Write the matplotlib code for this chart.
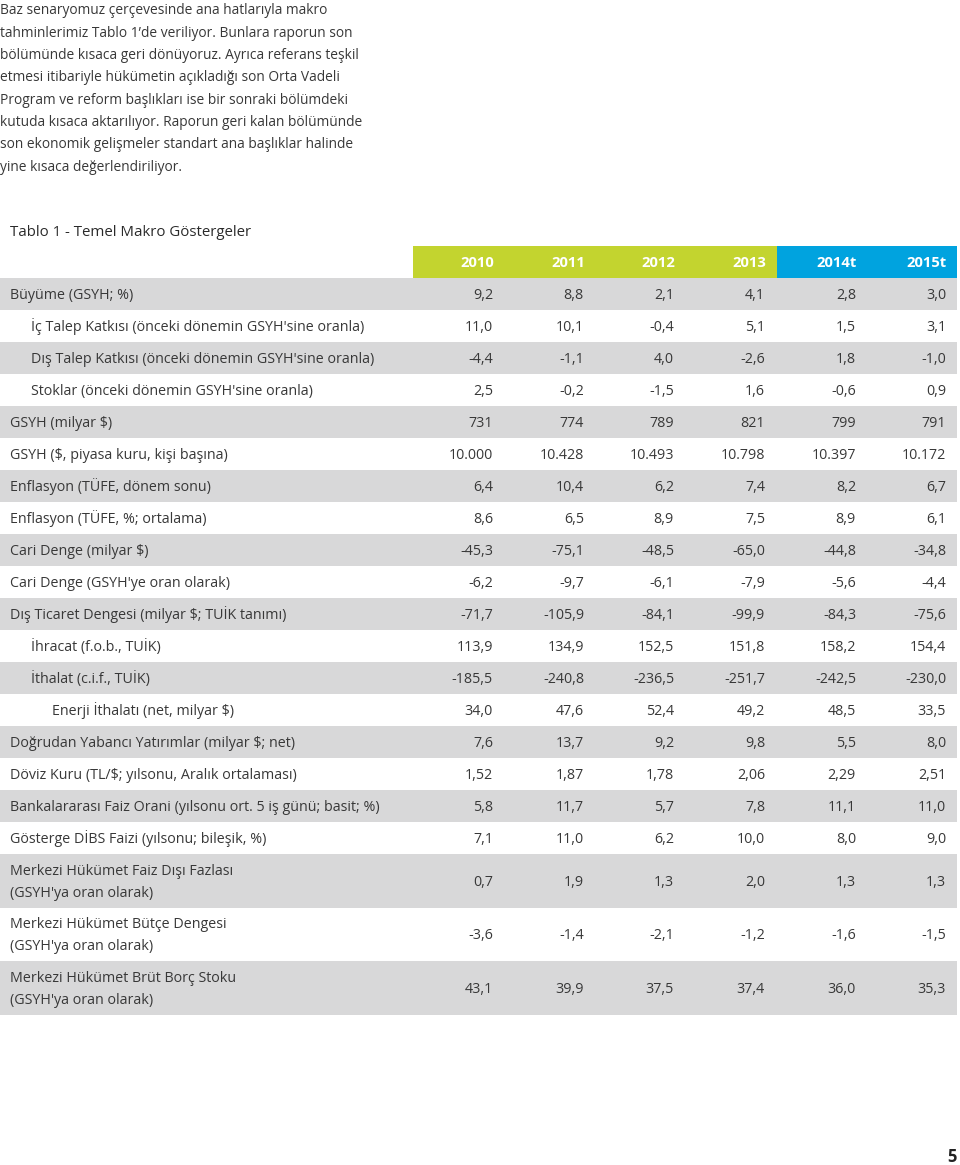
import matplotlib.pyplot as plt
from matplotlib.patches import Rectangle

plt.rcParams["font.family"] = ["Open Sans", "DejaVu Sans"]

intro = [
    "Baz senaryomuz çerçevesinde ana hatlarıyla makro",
    "tahminlerimiz Tablo 1\u2019de veriliyor. Bunlara raporun son",
    "bölümünde kısaca geri dönüyoruz. Ayrıca referans teşkil",
    "etmesi itibariyle hükümetin açıkladığı son Orta Vadeli",
    "Program ve reform başlıkları ise bir sonraki bölümdeki",
    "kutuda kısaca aktarılıyor. Raporun geri kalan bölümünde",
    "son ekonomik gelişmeler standart ana başlıklar halinde",
    "yine kısaca değerlendiriliyor.",
]
title = "Tablo 1 - Temel Makro Göstergeler"

years = ["2010", "2011", "2012", "2013", "2014t", "2015t"]

labels = [
    "Büyüme (GSYH; %)",
    "İç Talep Katkısı (önceki dönemin GSYH'sine oranla)",
    "Dış Talep Katkısı (önceki dönemin GSYH'sine oranla)",
    "Stoklar (önceki dönemin GSYH'sine oranla)",
    "GSYH (milyar $)",
    "GSYH ($, piyasa kuru, kişi başına)",
    "Enflasyon (TÜFE, dönem sonu)",
    "Enflasyon (TÜFE, %; ortalama)",
    "Cari Denge (milyar $)",
    "Cari Denge (GSYH'ye oran olarak)",
    "Dış Ticaret Dengesi (milyar $; TUİK tanımı)",
    "İhracat (f.o.b., TUİK)",
    "İthalat (c.i.f., TUİK)",
    "Enerji İthalatı (net, milyar $)",
    "Doğrudan Yabancı Yatırımlar (milyar $; net)",
    "Döviz Kuru (TL/$; yılsonu, Aralık ortalaması)",
    "Bankalararası Faiz Orani (yılsonu ort. 5 iş günü; basit; %)",
    "Gösterge DİBS Faizi (yılsonu; bileşik, %)",
    "Merkezi Hükümet Faiz Dışı Fazlası\n(GSYH'ya oran olarak)",
    "Merkezi Hükümet Bütçe Dengesi\n(GSYH'ya oran olarak)",
    "Merkezi Hükümet Brüt Borç Stoku\n(GSYH'ya oran olarak)",
]
indent = [0, 1, 1, 1, 0, 0, 0, 0, 0, 0, 0, 1, 1, 2, 0, 0, 0, 0, 0, 0, 0]

values = [
    ["9,2", "8,8", "2,1", "4,1", "2,8", "3,0"],
    ["11,0", "10,1", "-0,4", "5,1", "1,5", "3,1"],
    ["-4,4", "-1,1", "4,0", "-2,6", "1,8", "-1,0"],
    ["2,5", "-0,2", "-1,5", "1,6", "-0,6", "0,9"],
    ["731", "774", "789", "821", "799", "791"],
    ["10.000", "10.428", "10.493", "10.798", "10.397", "10.172"],
    ["6,4", "10,4", "6,2", "7,4", "8,2", "6,7"],
    ["8,6", "6,5", "8,9", "7,5", "8,9", "6,1"],
    ["-45,3", "-75,1", "-48,5", "-65,0", "-44,8", "-34,8"],
    ["-6,2", "-9,7", "-6,1", "-7,9", "-5,6", "-4,4"],
    ["-71,7", "-105,9", "-84,1", "-99,9", "-84,3", "-75,6"],
    ["113,9", "134,9", "152,5", "151,8", "158,2", "154,4"],
    ["-185,5", "-240,8", "-236,5", "-251,7", "-242,5", "-230,0"],
    ["34,0", "47,6", "52,4", "49,2", "48,5", "33,5"],
    ["7,6", "13,7", "9,2", "9,8", "5,5", "8,0"],
    ["1,52", "1,87", "1,78", "2,06", "2,29", "2,51"],
    ["5,8", "11,7", "5,7", "7,8", "11,1", "11,0"],
    ["7,1", "11,0", "6,2", "10,0", "8,0", "9,0"],
    ["0,7", "1,9", "1,3", "2,0", "1,3", "1,3"],
    ["-3,6", "-1,4", "-2,1", "-1,2", "-1,6", "-1,5"],
    ["43,1", "39,9", "37,5", "37,4", "36,0", "35,3"],
]

GREEN = "#c3d42f"
BLUE = "#00a3df"
GRAY = "#d8d8d9"
TXT = "#383838"

W, H = 960, 1165
fig = plt.figure(figsize=(W / 100, H / 100), dpi=100)
ax = fig.add_axes([0, 0, 1, 1])
ax.set_xlim(0, W)
ax.set_ylim(H, 0)
ax.axis("off")

# intro paragraph, one baseline per line
for k, line in enumerate(intro):
    ax.text(0, 14.5 + 22.3 * k, line, fontsize=9.9, color=TXT, va="baseline", ha="left")
ax.text(10, 236, title, fontsize=10.8, color="#2a2a2a", va="baseline", ha="left")

val_right = [493, 584, 674, 765, 856, 946]

# header band: actual years green, forecasts blue
head_top, head_h = 246, 32
ax.add_patch(Rectangle((413, head_top), 777 - 413, head_h, color=GREEN, lw=0))
ax.add_patch(Rectangle((777, head_top), 957 - 777, head_h, color=BLUE, lw=0))
for yr, xr in zip(years, val_right):
    ax.text(xr + 1, head_top + head_h / 2 + 5, yr, fontsize=10.6, color="white",
            fontweight="bold", ha="right", va="baseline")

# body rows
y = head_top + head_h
for i, (lab, ind, vals) in enumerate(zip(labels, indent, values)):
    lines = lab.split("\n")
    h = 53.5 if len(lines) > 1 else 32
    if i % 2 == 0:
        ax.add_patch(Rectangle((0, y), 957, h, color=GRAY, lw=0))
    yc = y + h / 2
    for k, line in enumerate(lines):
        yl = yc + 5 + (k - (len(lines) - 1) / 2) * 22
        ax.text(10 + 21 * ind, yl, line, fontsize=10.3, color=TXT, ha="left",
                va="baseline")
    for v, xr in zip(vals, val_right):
        ax.text(xr, yc + 5, v, fontsize=10.3, color=TXT, ha="right", va="baseline")
    y += h

ax.text(957, 1162, "5", fontsize=12, fontweight="bold", color="#222222",
        ha="right", va="baseline")

fig.savefig("out.png", dpi=100)
